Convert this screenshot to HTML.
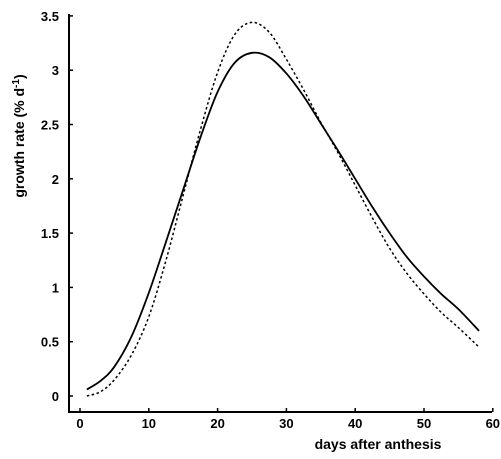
<!DOCTYPE html>
<html><head><meta charset="utf-8"><style>
html,body{margin:0;padding:0;background:#fff;}
svg{display:block;font-family:"Liberation Sans",sans-serif;}
</style></head><body>
<svg id="chart" width="501" height="459" viewBox="0 0 501 459"></svg>
<script>
const days = [1,3,5,7.5,10,12.5,15,17.5,20,22.5,25,27.5,30,32.5,35,37.5,40,42.5,45,47.5,50,52.5,55,58];
const solidVals = [0.06,0.14,0.27,0.55,0.95,1.42,1.9,2.38,2.8,3.07,3.16,3.12,2.97,2.76,2.51,2.26,2.0,1.74,1.5,1.28,1.1,0.94,0.8,0.6];
const dashedVals = [0.0,0.04,0.15,0.38,0.73,1.25,1.85,2.45,2.98,3.33,3.44,3.35,3.1,2.82,2.52,2.24,1.94,1.64,1.36,1.13,0.94,0.77,0.63,0.45];
const xTicks = [0,10,20,30,40,50,60];
const yTicks = [0,0.5,1,1.5,2,2.5,3,3.5];
const yTickLabels = ["0","0.5","1","1.5","2","2.5","3","3.5"];

const NS="http://www.w3.org/2000/svg";
const svg=document.getElementById('chart');
const xs=v=>80+v*6.88;
const ys=v=>396-v*108.6;
function mk(t,a){const e=document.createElementNS(NS,t);for(const k in a)e.setAttribute(k,a[k]);svg.appendChild(e);return e;}

const ya=mk('line',{x1:69,y1:14,x2:69,y2:412,stroke:'#000','stroke-width':2});


const xa=mk('line',{x1:68,y1:412,x2:492,y2:412,stroke:'#000','stroke-width':2});



yTicks.forEach((v,i)=>{
  const t=mk('line',{x1:69,y1:ys(v),x2:73,y2:ys(v),stroke:'#000','stroke-width':1.5});
  
  
  const l=mk('text',{x:59,y:ys(v)+5,'text-anchor':'end','font-size':13,'font-weight':'bold'});
  l.textContent=yTickLabels[i];
  
  
});
xTicks.forEach(v=>{
  const t=mk('line',{x1:xs(v),y1:412,x2:xs(v),y2:408,stroke:'#000','stroke-width':1.5});
  
  
  const l=mk('text',{x:xs(v),y:428,'text-anchor':'middle','font-size':13,'font-weight':'bold'});
  l.textContent=String(v);
  
  
});

function pathD(xv,yv){
  const p=xv.map((x,i)=>[xs(x),ys(yv[i])]);
  let d='M'+p[0][0]+','+p[0][1];
  for(let i=0;i<p.length-1;i++){
    const p0=p[Math.max(0,i-1)],p1=p[i],p2=p[i+1],p3=p[Math.min(p.length-1,i+2)];
    const c1=[p1[0]+(p2[0]-p0[0])/6,p1[1]+(p2[1]-p0[1])/6];
    const c2=[p2[0]-(p3[0]-p1[0])/6,p2[1]-(p3[1]-p1[1])/6];
    d+=' C'+c1+' '+c2+' '+p2;
  }
  return d;
}
const s=mk('path',{d:pathD(days,solidVals),fill:'none',stroke:'#000','stroke-width':1.8});


const dsh=mk('path',{d:pathD(days,dashedVals),fill:'none',stroke:'#000','stroke-width':1.5,'stroke-dasharray':'2.5,2.5'});



const xt=mk('text',{x:378,y:449,'text-anchor':'middle','font-size':14,'font-weight':'bold'});
xt.textContent='days after anthesis';


const yt=mk('text',{x:0,y:0,'text-anchor':'middle','font-size':14,'font-weight':'bold',transform:'translate(24,136) rotate(-90)'});
yt.innerHTML='growth rate (% d<tspan dy="-5" font-size="10">-1</tspan><tspan dy="5">)</tspan>';


</script>
</body></html>
